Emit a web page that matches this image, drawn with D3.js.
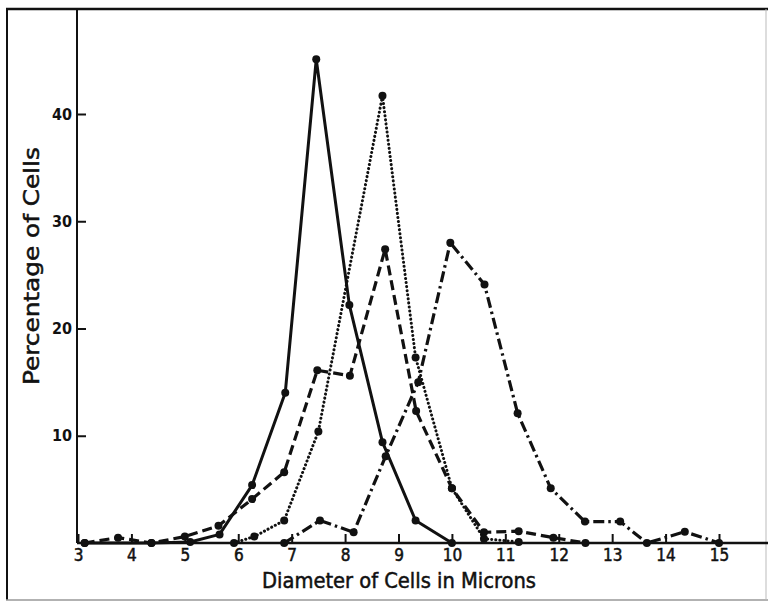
<!DOCTYPE html>
<html>
<head>
<meta charset="utf-8">
<script src="https://cdn.jsdelivr.net/npm/d3@7"></script>
<style>
  body { margin: 0; background: #fff; }
  svg { display: block; }
</style>
</head>
<body>
<div id="wrapper"></div>
<script>
// data (diameter in microns, percentage of cells)
const solidX  = [3.125, 4.375, 5.1, 5.65, 6.26, 6.88, 7.46, 8.08, 8.7, 9.32, 10.0];
const solidY  = [0, 0, 0.1, 0.8, 5.4, 14.0, 45.1, 22.2, 9.4, 2.1, 0];

const dashedX = [3.125, 3.75, 4.375, 5.0, 5.63, 6.26, 6.86, 7.48, 8.09, 8.75, 9.33, 10.0, 10.6, 11.25, 11.9, 12.5];
const dashedY = [0, 0.5, 0, 0.6, 1.6, 4.1, 6.6, 16.1, 15.6, 27.4, 12.3, 5.1, 1.0, 1.1, 0.5, 0];

const dottedX = [5.92, 6.3, 6.86, 7.5, 8.7, 9.32, 10.0, 10.6, 11.25];
const dottedY = [0, 0.6, 2.1, 10.4, 41.7, 17.3, 5.1, 0.4, 0.1];

const dashDotX = [6.86, 7.53, 8.16, 8.76, 9.37, 9.97, 10.61, 11.23, 11.85, 12.49, 13.15, 13.65, 14.36, 15.0];
const dashDotY = [0, 2.1, 1.0, 8.1, 15.0, 28.0, 24.1, 12.1, 5.1, 2.0, 2.0, 0, 1.05, 0];

const xTicks = [3, 4, 5, 6, 7, 8, 9, 10, 11, 12, 13, 14, 15];
const yTicks = [10, 20, 30, 40];

async function drawChart() {
  const dimensions = {
    width: 768,
    height: 606,
  };

  const wrapper = d3.select("#wrapper")
    .append("svg")
    .attr("width", dimensions.width)
    .attr("height", dimensions.height);

  const xScale = d3.scaleLinear().domain([3, 15]).range([78, 719]);
  const yScale = d3.scaleLinear().domain([0, 40]).range([543, 114]);

  // frame
  wrapper.append("line")
    .attr("x1", 7).attr("x2", 7).attr("y1", 9).attr("y2", 600)
    .attr("stroke", "#111").attr("stroke-width", 2);
  wrapper.append("line")
    .attr("x1", 6).attr("x2", 768).attr("y1", 9).attr("y2", 9)
    .attr("stroke", "#111").attr("stroke-width", 2.5);
  wrapper.append("line")
    .attr("x1", 6).attr("x2", 768).attr("y1", 600).attr("y2", 600)
    .attr("stroke", "#999").attr("stroke-width", 1.5);
  wrapper.append("line")
    .attr("x1", 766).attr("x2", 766).attr("y1", 9).attr("y2", 600)
    .attr("stroke", "#bbb").attr("stroke-width", 1);

  // axes
  const xAxis = wrapper.append("g")
    .attr("transform", `translate(0, ${yScale(0)})`)
    .call(d3.axisBottom(xScale).tickValues(xTicks).tickSizeInner(-9).tickSizeOuter(0).tickPadding(6));
  xAxis.select(".domain").remove();
  xAxis.selectAll(".tick line").attr("stroke", "#111").attr("stroke-width", 2);
  xAxis.selectAll("text")
    .attr("fill", "#111")
    .attr("stroke", "#111")
    .attr("stroke-width", 0.5)
    .style("font-family", "'DejaVu Sans Condensed', sans-serif")
    .style("font-size", "17px");

  const yAxis = wrapper.append("g")
    .attr("transform", `translate(${xScale(3) - 1}, 0)`)
    .call(d3.axisLeft(yScale).tickValues(yTicks).tickSizeInner(-9).tickSizeOuter(0).tickPadding(5));
  yAxis.select(".domain").remove();
  yAxis.selectAll(".tick line").attr("stroke", "#111").attr("stroke-width", 2);
  yAxis.selectAll("text")
    .attr("fill", "#111")
    .style("font-family", "'DejaVu Sans Condensed', sans-serif")
    .style("font-weight", "bold")
    .style("font-size", "16px");

  wrapper.append("line")
    .attr("x1", xScale(3) - 1).attr("x2", xScale(3) - 1)
    .attr("y1", 9).attr("y2", yScale(0))
    .attr("stroke", "#111").attr("stroke-width", 2);
  wrapper.append("line")
    .attr("x1", xScale(3) - 1).attr("x2", 768)
    .attr("y1", yScale(0)).attr("y2", yScale(0))
    .attr("stroke", "#111").attr("stroke-width", 2.5);

  // axis titles
  wrapper.append("text")
    .attr("x", 399).attr("y", 588)
    .attr("text-anchor", "middle")
    .attr("textLength", 274)
    .attr("lengthAdjust", "spacingAndGlyphs")
    .attr("fill", "#111")
    .attr("stroke", "#111")
    .attr("stroke-width", 0.5)
    .style("font-family", "'DejaVu Sans Condensed', sans-serif")
    .style("font-size", "22px")
    .text("Diameter of Cells in Microns");

  wrapper.append("text")
    .attr("transform", `translate(39, 266) rotate(-90)`)
    .attr("text-anchor", "middle")
    .attr("textLength", 238)
    .attr("lengthAdjust", "spacingAndGlyphs")
    .attr("fill", "#111")
    .attr("stroke", "#111")
    .attr("stroke-width", 0.5)
    .style("font-family", "'DejaVu Sans Condensed', sans-serif")
    .style("font-size", "22px")
    .text("Percentage of Cells");

  // series
  const series = [
    { xs: solidX, ys: solidY, dash: null, width: 3, cap: "butt" },
    { xs: dashedX, ys: dashedY, dash: "10 5", width: 3.2, cap: "butt" },
    { xs: dottedX, ys: dottedY, dash: "0.1 4", width: 3, cap: "round" },
    { xs: dashDotX, ys: dashDotY, dash: "11 4 2.5 4", width: 3.2, cap: "butt" },
  ];

  const lineGenerator = d3.line()
    .x((d) => xScale(d[0]))
    .y((d) => yScale(d[1]));

  series.forEach((s) => {
    const points = s.xs.map((x, i) => [x, s.ys[i]]);
    wrapper.append("path")
      .attr("d", lineGenerator(points))
      .attr("fill", "none")
      .attr("stroke", "#111")
      .attr("stroke-width", s.width)
      .attr("stroke-linecap", s.cap)
      .attr("stroke-linejoin", "round")
      .attr("stroke-dasharray", s.dash);

    wrapper.append("g")
      .selectAll("circle")
      .data(points)
      .join("circle")
      .attr("cx", (d) => xScale(d[0]))
      .attr("cy", (d) => yScale(d[1]))
      .attr("r", 4)
      .attr("fill", "#111");
  });
}
drawChart();
</script>
</body>
</html>
